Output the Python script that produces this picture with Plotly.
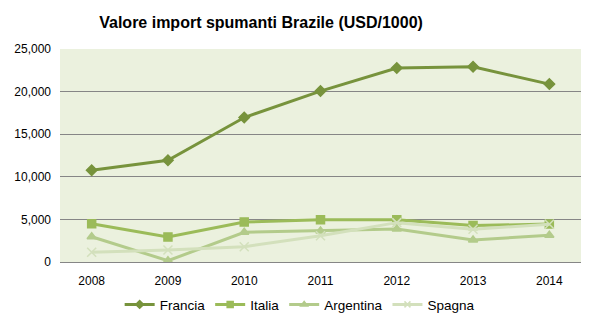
import plotly.graph_objects as go

# Annual sparkling wine import value into Brazil (USD thousands)
anni = ["2008", "2009", "2010", "2011", "2012", "2013", "2014"]
francia = [10780, 11950, 16960, 20060, 22760, 22910, 20880]
italia = [4500, 2940, 4700, 4950, 4950, 4270, 4460]
argentina = [2970, 150, 3490, 3650, 3880, 2590, 3130]
spagna = [1140, 1410, 1800, 3090, 4620, 3840, 4430]

serie = [
    ("Francia", francia, "#77933C", "diamond", 8),
    ("Italia", italia, "#9BBB59", "square", 8),
    ("Argentina", argentina, "#B3CB8B", "triangle-up", 8),
    ("Spagna", spagna, "#D3E0BC", "x-thin", 9),
]

fig = go.Figure()
for nome, valori, colore, simbolo, dim in serie:
    fig.add_trace(go.Scatter(
        x=anni, y=valori, name=nome, mode="lines+markers", showlegend=False,
        line=dict(color=colore, width=3),
        marker=dict(symbol=simbolo, size=dim, color=colore,
                    line=dict(color=colore, width=1.5)),
    ))
# legend entries with smaller symbols
for nome, valori, colore, simbolo, dim in serie:
    fig.add_trace(go.Scatter(
        x=[None], y=[None], name=nome, mode="lines+markers",
        line=dict(color=colore, width=3),
        marker=dict(symbol=simbolo, size=6, color=colore,
                    line=dict(color=colore, width=1.5)),
    ))

fig.update_layout(
    width=596, height=326,
    margin=dict(l=60, r=15, t=49, b=64, autoexpand=False),
    paper_bgcolor="white",
    plot_bgcolor="#EBF1DE",
    font=dict(family="Liberation Sans, Arial, sans-serif", size=12, color="#000000"),
    title=dict(text="<b>Valore import spumanti Brazile (USD/1000)</b>",
               x=0.438, xanchor="center", y=0.93, yanchor="middle",
               font=dict(size=16, color="#000000")),
    showlegend=True,
    legend=dict(orientation="h", x=0.46, xanchor="center", y=-0.2, yanchor="middle",
                font=dict(size=13.5), traceorder="normal"),
    xaxis=dict(type="category", showgrid=False, showline=False, ticks="",
               ticklabelstandoff=10, tickfont=dict(size=12)),
    yaxis=dict(range=[0, 25000], dtick=5000, tickformat=",d",
               showgrid=True, gridcolor="#868686", gridwidth=1,
               zeroline=True, zerolinecolor="#868686", zerolinewidth=1,
               showline=False, ticks="", ticklabelstandoff=8,
               tickfont=dict(size=12)),
)

fig.write_html("out.html")
